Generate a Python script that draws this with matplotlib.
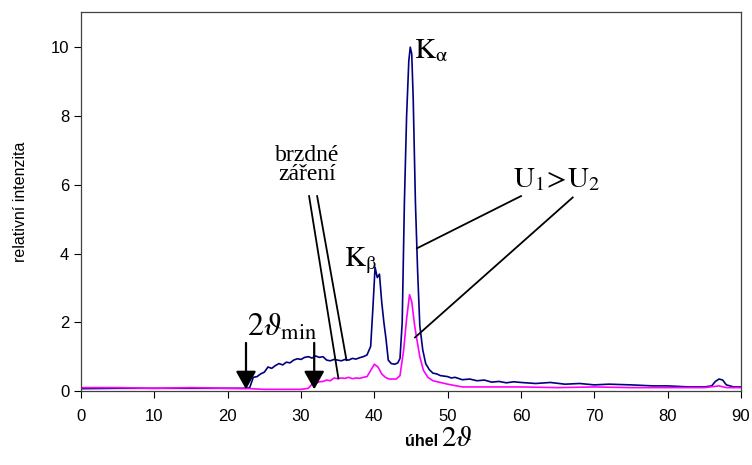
import numpy as np
import matplotlib
matplotlib.use('Agg')
import matplotlib.pyplot as plt

plt.rcParams['font.family'] = ['Liberation Sans', 'DejaVu Sans']
plt.rcParams['mathtext.fontset'] = 'stix'

# U1 (higher voltage) - navy
x_u1 = [0, 5, 10, 15, 20, 22.5, 23, 23.5, 24, 24.5, 25, 25.5, 26, 26.5, 27, 27.5, 28,
        28.5, 29, 29.5, 30, 30.5, 31, 31.5, 32, 32.5, 33, 33.5, 34, 34.5, 35, 35.5,
        36, 36.5, 37, 37.5, 38, 38.5, 39, 39.5, 39.8, 40.1, 40.4, 40.7, 41.0, 41.3,
        41.6, 41.9, 42.3, 42.8, 43.2, 43.5, 43.8, 44.1, 44.4, 44.7, 44.9, 45.1, 45.3,
        45.6, 45.9, 46.2, 46.6, 47, 47.5, 48, 48.5, 49, 50, 50.5, 51, 52, 53, 54, 55,
        56, 57, 58, 59, 60, 62, 64, 66, 68, 70, 72, 75, 78, 80, 83, 85,
        86, 86.5, 87, 87.5, 88, 89, 90]
y_u1 = [0.07, 0.08, 0.08, 0.08, 0.08, 0.08, 0.1, 0.4, 0.42, 0.5, 0.55, 0.7, 0.66, 0.74, 0.8, 0.76, 0.84,
        0.82, 0.9, 0.94, 0.92, 0.98, 1.0, 0.96, 1.02, 0.98, 1.0, 0.9, 0.88, 0.92, 0.9, 0.88,
        0.92, 0.9, 0.95, 0.93, 0.97, 1.0, 1.05, 1.3, 2.4, 3.6, 3.3, 3.4, 2.6, 2.0,
        1.5, 0.9, 0.8, 0.78, 0.82, 0.95, 2.0, 5.5, 8.0, 9.6, 10.0, 9.8, 8.5,
        5.5, 3.5, 1.9, 1.2, 0.8, 0.62, 0.52, 0.5, 0.45, 0.42, 0.38, 0.4, 0.33, 0.35, 0.3, 0.32,
        0.26, 0.28, 0.24, 0.27, 0.25, 0.22, 0.25, 0.2, 0.22, 0.18, 0.2, 0.18, 0.15, 0.15, 0.12, 0.12,
        0.15, 0.28, 0.35, 0.32, 0.18, 0.12, 0.12]

# U2 (lower voltage) - magenta
x_u2 = [0, 5, 10, 15, 20, 23, 25, 28, 30, 31, 31.5, 32, 32.5, 33, 33.5, 34, 34.5, 35,
        35.5, 36, 36.5, 37, 37.5, 38, 38.5, 39, 39.5, 40, 40.5, 41, 41.5, 42, 43, 43.5,
        44, 44.4, 44.8, 45.1, 45.5, 45.8, 46.2, 46.7, 47.3, 48, 49, 50, 52, 55, 60,
        65, 70, 75, 80, 85, 87, 88, 90]
y_u2 = [0.1, 0.1, 0.08, 0.1, 0.08, 0.07, 0.05, 0.05, 0.05, 0.08, 0.2, 0.22, 0.27, 0.28, 0.32, 0.3, 0.38, 0.36,
        0.38, 0.37, 0.4, 0.36, 0.38, 0.37, 0.4, 0.42, 0.6, 0.78, 0.7, 0.5, 0.4, 0.35, 0.35, 0.45,
        1.2, 2.1, 2.8, 2.6, 1.9, 1.5, 1.0, 0.6, 0.4, 0.3, 0.25, 0.2, 0.12, 0.12, 0.12,
        0.1, 0.12, 0.1, 0.1, 0.1, 0.15, 0.1, 0.1]

xticks = np.arange(0, 91, 10)
yticks = np.arange(0, 11, 2)

fig = plt.figure(figsize=(7.52, 4.65), dpi=100)
ax = fig.add_axes([0.1077, 0.159, 0.8777, 0.815])

ax.plot(x_u1, y_u1, color='#000080', lw=1.2)
ax.plot(x_u2, y_u2, color='#ff00ff', lw=1.2)

ax.set_xlim(0, 90)
ax.set_ylim(0, 11.02)
ax.set_xticks(xticks)
ax.set_yticks(yticks)
ax.tick_params(direction='out', length=5, labelsize=12, colors='black')
ax.tick_params(axis='x', pad=8)
for s in ax.spines.values():
    s.set_linewidth(0.9)
    s.set_color('#404040')

ax.set_ylabel('relativní intenzita', fontsize=11.5, labelpad=16)

# annotations
serif = 'Liberation Serif'
ax.text(45.4, 9.9, r'$\mathrm{K}_{\mathrm{α}}$', fontsize=21, family=serif, va='center', ha='left')
ax.text(35.9, 3.8, r'$\mathrm{K}_{\mathrm{β}}$', fontsize=21, family=serif, va='center', ha='left')
ax.text(30.8, 6.57, 'brzdné\nzáření', fontsize=17, family=serif, ha='center', va='center',
        linespacing=0.85)
ax.text(64.9, 6.15, r'$\mathrm{U}_1\!>\!\mathrm{U}_2$', fontsize=21, family=serif,
        ha='center', va='center')
ax.text(22.7, 1.6, r'$2\vartheta_{\mathrm{min}}$', fontsize=23, family=serif,
        ha='left', va='baseline')

lines = [((31.1, 5.67), (35.1, 0.37)),
         ((32.2, 5.67), (36.2, 0.9)),
         ((60.0, 5.67), (45.8, 4.15)),
         ((67.05, 5.63), (45.55, 1.56))]
for (x0, y0), (x1, y1) in lines:
    ax.plot([x0, x1], [y0, y1], color='black', lw=1.3)

for xa in (22.5, 31.8):
    ax.annotate('', xy=(xa, 0.05), xytext=(xa, 1.4),
                arrowprops=dict(arrowstyle='-|>,head_length=0.5,head_width=0.28',
                                color='black', lw=1.6, mutation_scale=22,
                                shrinkA=0, shrinkB=0))

fig.text(0.582, 0.04, 'úhel', fontsize=11.5, fontweight='bold', ha='right', va='baseline')
fig.text(0.586, 0.04, r'$2\vartheta$', fontsize=21, family=serif, ha='left', va='baseline')

fig.savefig('out.png', dpi=100)
